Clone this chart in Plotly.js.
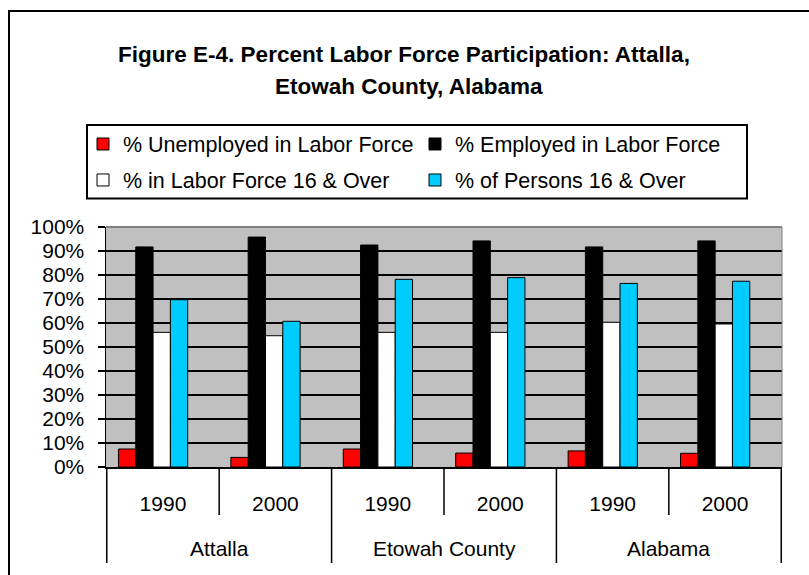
<!DOCTYPE html>
<html>
<head>
<meta charset="utf-8">
<script src="https://cdn.plot.ly/plotly-3.0.1.min.js"></script>
<style>html,body{margin:0;padding:0;background:#fff;}#chart{width:809px;height:575px;}</style>
</head>
<body>
<div id="chart"></div>
<script>
// ---- data ----
const groups = ["Attalla", "Etowah County", "Alabama"];
const years = ["1990", "2000"];
const seriesNames = [
  "% Unemployed in Labor Force",
  "% Employed in Labor Force",
  "% in Labor Force 16 & Over",
  "% of Persons 16 & Over"
];
// values per category: Attalla 1990, Attalla 2000, Etowah 1990, Etowah 2000, Alabama 1990, Alabama 2000
const unemployed = [0.075, 0.040, 0.075, 0.058, 0.067, 0.057];
const employed   = [0.917, 0.958, 0.925, 0.942, 0.917, 0.942];
const laborForce = [0.561, 0.547, 0.561, 0.561, 0.603, 0.596];
const persons16  = [0.697, 0.607, 0.782, 0.789, 0.765, 0.774];
const yTickVals = [0, 0.1, 0.2, 0.3, 0.4, 0.5, 0.6, 0.7, 0.8, 0.9, 1.0];
const yTickText = ["0%","10%","20%","30%","40%","50%","60%","70%","80%","90%","100%"];
const titleLine1 = "Figure E-4. Percent Labor Force Participation: Attalla,";
const titleLine2 = "Etowah County, Alabama";

// ---- build ----
const cats = [];
const catYears = [];
groups.forEach(g => years.forEach(y => { cats.push(g + " " + y); catYears.push(y); }));

const FONT = "Arial, 'Liberation Sans', sans-serif";
const colors = ["#FF0000", "#000000", "#FFFFFF", "#00CCFF"];
const values = [unemployed, employed, laborForce, persons16];
const legendIds = ["legend", "legend", "legend2", "legend2"];
const BAR_W = 0.154, FIRST_OFF = -0.396;

const traces = values.map((v, i) => ({
  type: "bar",
  name: seriesNames[i],
  x: cats,
  y: v,
  width: BAR_W,
  offset: FIRST_OFF + i * BAR_W,
  marker: { color: colors[i], line: { color: "#000000", width: 1 } },
  legend: legendIds[i],
  hoverinfo: "skip"
}));

const W = 809, H = 575;
const L = 106, R = 27, T = 227, B = 108;
const pw = W - L - R, ph = H - T - B;
const px = x => (x - L) / pw;           // pixel -> paper x
const py = y => (H - B - y) / ph;       // pixel -> paper y

const shapes = [];
// outer chart border (top and left visible)
shapes.push({ type: "rect", xref: "paper", yref: "paper", x0: px(9), x1: px(840), y0: py(620), y1: py(11),
  line: { color: "#000", width: 2 }, layer: "below" });
// legend box
shapes.push({ type: "rect", xref: "paper", yref: "paper", x0: px(87), x1: px(747), y0: py(198.5), y1: py(125),
  line: { color: "#000", width: 2 }, fillcolor: "rgba(0,0,0,0)" });
// plot top / right border in gray
shapes.push({ type: "line", xref: "paper", yref: "paper", x0: 0, x1: 1, y0: 1, y1: 1, line: { color: "#808080", width: 2 } });
shapes.push({ type: "line", xref: "paper", yref: "paper", x0: 1, x1: 1, y0: 0, y1: 1, line: { color: "#808080", width: 1 } });
// category dividers
const n = cats.length;
for (let k = 0; k <= n; k++) {
  const isGroupEdge = (k % years.length === 0);
  shapes.push({ type: "line", xref: "x", yref: "paper", x0: k - 0.5, x1: k - 0.5,
    y0: 0, y1: py(isGroupEdge ? 563 : 515),
    line: { color: "#000", width: 1.5 } });
}

const annotations = [];
groups.forEach((g, gi) => {
  annotations.push({ text: g, xref: "x", yref: "paper", x: gi * years.length + (years.length - 1) / 2,
    y: py(548), showarrow: false, yanchor: "middle", font: { family: FONT, size: 21, color: "#000" } });
});
annotations.push({ text: "<b>" + titleLine2 + "</b>", xref: "paper", yref: "paper", x: px(409), y: py(86),
  showarrow: false, yanchor: "middle", xanchor: "center", font: { family: FONT, size: 22.5, color: "#000" } });

const legendCommon = {
  orientation: "h", xanchor: "left", yanchor: "middle", bgcolor: "rgba(0,0,0,0)", borderwidth: 0,
  entrywidth: 287, entrywidthmode: "pixels",
  font: { family: FONT, size: 21.5, color: "#000" }, traceorder: "normal"
};

const layout = {
  width: W, height: H,
  margin: { l: L, r: R, t: T, b: B, pad: 0 },
  paper_bgcolor: "#FFFFFF",
  plot_bgcolor: "#C0C0C0",
  font: { family: FONT, size: 21, color: "#000" },
  title: { text: "<b>" + titleLine1 + "</b>", x: 404 / W, xanchor: "center", xref: "container",
    y: 1 - 54 / H, yanchor: "middle", yref: "container", font: { family: FONT, size: 22.5, color: "#000" } },
  barmode: "group",
  xaxis: {
    type: "category", tickvals: cats, ticktext: catYears, ticks: "", showgrid: false,
    showline: true, linecolor: "#000", linewidth: 1.5, ticklabelstandoff: 17,
    tickfont: { family: FONT, size: 21, color: "#000" }, fixedrange: true
  },
  yaxis: {
    range: [0, 1], tickvals: yTickVals, ticktext: yTickText, ticks: "outside", ticklen: 7, tickcolor: "#000",
    tickwidth: 1.5, showline: true, linecolor: "#000", linewidth: 1.5, showgrid: true, gridcolor: "#000",
    gridwidth: 1.5, zeroline: false, ticklabelstandoff: 9,
    tickfont: { family: FONT, size: 21, color: "#000" }, fixedrange: true
  },
  legend: Object.assign({}, legendCommon, { x: px(83), y: py(144) }),
  legend2: Object.assign({}, legendCommon, { x: px(83), y: py(180) }),
  shapes: shapes,
  annotations: annotations,
  showlegend: true
};

Plotly.newPlot("chart", traces, layout, { displayModeBar: false, staticPlot: true });
</script>
</body>
</html>
